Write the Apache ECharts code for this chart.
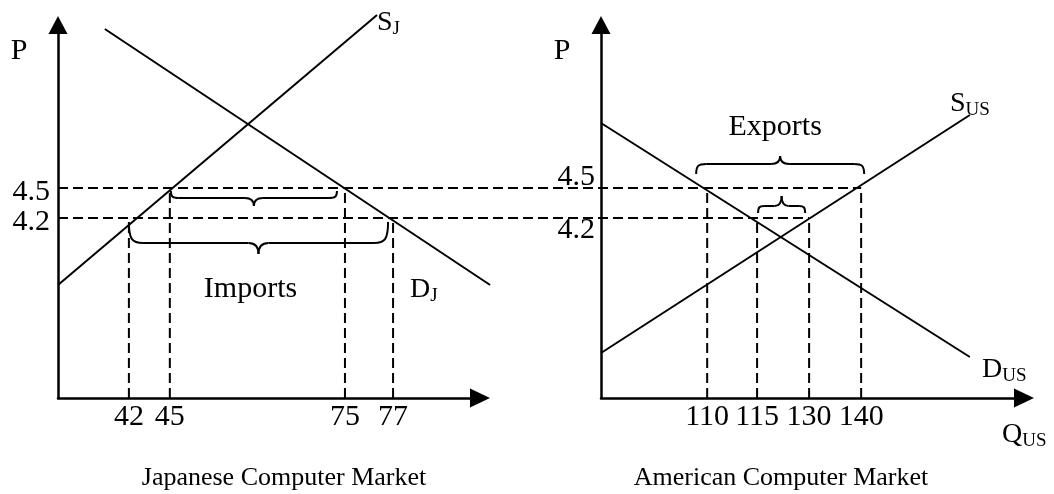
<!DOCTYPE html>
<html>
<head>
<meta charset="utf-8">
<title>Japanese and American computer markets</title>
<script src="https://cdn.jsdelivr.net/npm/echarts@6/dist/echarts.min.js"></script>
<style>
  html, body { margin: 0; padding: 0; background: #fff; }
  #chart { width: 1054px; height: 494px; }
</style>
</head>
<body>
<div id="chart"></div>
<script>
  // prices marked on both P axes
  const prices = [4.5, 4.2];
  // quantities at each price (same order as prices)
  const jpSupplyQ = [45, 42];
  const jpDemandQ = [75, 77];
  const usDemandQ = [110, 115];
  const usSupplyQ = [140, 130];

  // the Q axes are not to scale: tick labels and where they sit on a 0-100 axis
  const jpTicks = [42, 45, 75, 77];
  const jpTickAt = [16.8, 26.5, 68.0, 79.4];
  const usTicks = [110, 115, 130, 140];
  const usTickAt = [25.1, 36.9, 49.2, 61.5];

  // curve end points [Q axis units, P]
  const jpSupply = [[0, 3.53], [75.6, 6.23]];
  const jpDemand = [[11.1, 6.09], [102.4, 3.53]];
  const usDemand = [[0, 5.15], [87.2, 2.81]];
  const usSupply = [[0, 2.85], [87.2, 5.23]];

  // braces [from Q, to Q, price]
  const jpBraces = [[45, 75, 4.5], [42, 77, 4.2]];
  const jpBraceText = ['', 'Imports'];
  const usBraces = [[110, 140, 4.5], [115, 130, 4.2]];
  const usBraceText = ['Exports', ''];

  const FONT = 'Liberation Serif';
  const yMin = 2.4, yMax = 6.13;

  // brace look, in pixels (dir 1 = tip points down)
  const jpBraceStyle = [
    {dir: 1, gap: 3, hook: 7, tip: 8, r1: 8, r2: 9, inset: [1, 8]},
    {dir: 1, gap: 4, hook: 21, tip: 11, r1: 14, r2: 10, inset: [0, 5], textGap: 35, textDx: -8}
  ];
  const usBraceStyle = [
    {dir: -1, gap: 14, hook: 10, tip: 8, r1: 10, r2: 9, inset: [-11, -3], textGap: 29, textDx: -5},
    {dir: -1, gap: 5, hook: 7, tip: 10, r1: 6, r2: 7, inset: [1, 4]}
  ];

  const jpX = q => jpTickAt[jpTicks.indexOf(q)];
  const usX = q => usTickAt[usTicks.indexOf(q)];

  const SOLID = {stroke: '#000', lineWidth: 2, fill: null};
  const DASHED = {stroke: '#000', lineWidth: 2, fill: null, lineDash: [10, 5]};

  // straight segments [x1, y1, x2, y2] in axis units, drawn through the grid's scales
  function segSeries(axis, segs, style) {
    return {
      type: 'custom', xAxisIndex: axis, yAxisIndex: axis, silent: true, clip: false, z: 3,
      data: segs,
      renderItem: function (params, api) {
        const a = api.coord([api.value(0), api.value(1)]);
        const b = api.coord([api.value(2), api.value(3)]);
        return {type: 'line', shape: {x1: a[0], y1: a[1], x2: b[0], y2: b[1]}, style: style};
      }
    };
  }

  function braceSeries(axis, list, toX, styles, texts) {
    return {
      type: 'custom', xAxisIndex: axis, yAxisIndex: axis, silent: true, clip: false, z: 4,
      data: list.map(b => [toX(b[0]), toX(b[1]), b[2]]),
      renderItem: function (params, api) {
        const st = styles[params.dataIndex];
        const a = api.coord([api.value(0), api.value(2)]);
        const b = api.coord([api.value(1), api.value(2)]);
        const d = st.dir;
        const x1 = a[0] + st.inset[0], x2 = b[0] - st.inset[1];
        const y0 = a[1] + d * st.gap, yb = y0 + d * st.hook, yt = yb + d * st.tip;
        const mid = (x1 + x2) / 2;
        const kids = [];
        [[x1, 1], [x2, -1]].forEach(function (e) {
          const xe = e[0], s = e[1];
          kids.push({type: 'bezierCurve', shape: {
            x1: xe, y1: y0, cpx1: xe, cpy1: y0 + d * st.hook * 0.85,
            cpx2: xe + s * st.r1 * 0.25, cpy2: yb, x2: xe + s * st.r1, y2: yb}, style: SOLID});
          kids.push({type: 'line', shape: {x1: xe + s * st.r1, y1: yb, x2: mid - s * st.r2, y2: yb}, style: SOLID});
          kids.push({type: 'bezierCurve', shape: {
            x1: mid - s * st.r2, y1: yb, cpx1: mid - s * st.r2 * 0.35, cpy1: yb,
            cpx2: mid, cpy2: yb + d * st.tip * 0.3, x2: mid, y2: yt}, style: SOLID});
        });
        const t = texts[params.dataIndex];
        if (t) {
          kids.push({type: 'text', x: mid + st.textDx, y: yt + d * st.textGap, style: {
            text: t, fontFamily: FONT, fontSize: 30, fill: '#000',
            align: 'center', verticalAlign: 'middle', textAlign: 'center', textVerticalAlign: 'middle'}});
        }
        return {type: 'group', children: kids};
      }
    };
  }

  function nearest(list, v) {
    let k = 0;
    list.forEach((p, i) => { if (Math.abs(p - v) < Math.abs(list[k] - v)) k = i; });
    return k;
  }

  function xAxisFor(grid, ticks, pos) {
    return {
      type: 'value', gridIndex: grid, min: 0, max: 100,
      splitLine: {show: false}, axisTick: {show: false},
      axisLine: {show: true, onZero: false, symbol: ['none', 'triangle'], symbolSize: [19, 20],
        lineStyle: {color: '#000', width: 2.5}},
      axisLabel: {customValues: pos, formatter: v => String(ticks[nearest(pos, v)]),
        color: '#000', fontFamily: FONT, fontSize: 30, margin: 4}
    };
  }

  function yAxisFor(grid, label) {
    return {
      type: 'value', gridIndex: grid, min: yMin, max: yMax,
      splitLine: {show: false}, axisTick: {show: false},
      axisLine: {show: true, onZero: false, symbol: ['none', 'triangle'], symbolSize: [19, 18],
        lineStyle: {color: '#000', width: 2.5}},
      axisLabel: label
    };
  }

  function sub(x, y, main, small) {
    return {
      type: 'text', x: x, y: y, silent: true,
      style: {
        text: '{m|' + main + '}{s|' + small + '}', fill: '#000',
        align: 'left', verticalAlign: 'middle', textAlign: 'left', textVerticalAlign: 'middle',
        rich: {
          m: {fontFamily: FONT, fontSize: 28, fill: '#000'},
          s: {fontFamily: FONT, fontSize: 19, fill: '#000', padding: [12, 0, 0, 0]}
        }
      }
    };
  }

  function plain(x, y, text, size) {
    return {
      type: 'text', x: x, y: y, silent: true,
      style: {text: text, fontFamily: FONT, fontSize: size, fill: '#000',
        align: 'center', verticalAlign: 'middle', textAlign: 'center', textVerticalAlign: 'middle'}
    };
  }

  const flat = pts => [pts[0][0], pts[0][1], pts[1][0], pts[1][1]];

  // dashed drops from each price down to the Q axis
  const jpDrops = [], usDrops = [];
  prices.forEach(function (p, i) {
    [jpSupplyQ[i], jpDemandQ[i]].forEach(q => jpDrops.push([jpX(q), yMin, jpX(q), p]));
    [usDemandQ[i], usSupplyQ[i]].forEach(q => usDrops.push([usX(q), yMin, usX(q), p]));
  });

  const series = [
    segSeries(0, [flat(jpSupply), flat(jpDemand)], SOLID),
    segSeries(1, [flat(usDemand), flat(usSupply)], SOLID),
    segSeries(0, jpDrops, DASHED),
    segSeries(1, usDrops, DASHED),
    braceSeries(0, jpBraces, jpX, jpBraceStyle, jpBraceText),
    braceSeries(1, usBraces, usX, usBraceStyle, usBraceText)
  ];

  const topPrice = Math.max(...prices);

  const chart = echarts.init(document.getElementById('chart'));
  chart.setOption({
    animation: false,
    backgroundColor: '#fff',
    grid: [
      {left: 58, right: 574, top: 25, bottom: 96},
      {left: 601, right: 30, top: 25, bottom: 96}
    ],
    xAxis: [xAxisFor(0, jpTicks, jpTickAt), xAxisFor(1, usTicks, usTickAt)],
    yAxis: [
      yAxisFor(0, {customValues: prices, color: '#000', fontFamily: FONT, fontSize: 30, margin: 8,
        formatter: v => '{n|' + v.toFixed(1) + '}',
        rich: {n: {fontFamily: FONT, fontSize: 30, color: '#000', padding: [8, 0, 0, 0]}}}),
      yAxisFor(1, {customValues: prices, color: '#000', fontFamily: FONT, fontSize: 30, margin: 6,
        formatter: v => (v === topPrice ? '{up|' : '{dn|') + v.toFixed(1) + '}',
        rich: {
          up: {fontFamily: FONT, fontSize: 30, color: '#000', padding: [0, 0, 22, 0]},
          dn: {fontFamily: FONT, fontSize: 30, color: '#000', padding: [24, 0, 0, 0]}
        }})
    ],
    graphic: [
      plain(19, 51, 'P', 30),
      plain(562, 51, 'P', 30),
      sub(377, 23, 'S', 'J'),
      sub(410, 290, 'D', 'J'),
      sub(950, 104, 'S', 'US'),
      sub(982, 370, 'D', 'US'),
      sub(1002, 435, 'Q', 'US'),
      plain(284, 478, 'Japanese Computer Market', 26),
      plain(781, 478, 'American Computer Market', 26)
    ],
    series: series
  });

  // price guides run from the Japanese P axis across to the last US quantity at that price
  const guides = prices.map(function (p, i) {
    const px = chart.convertToPixel({xAxisIndex: 1}, usX(Math.max(usDemandQ[i], usSupplyQ[i])));
    const end = chart.convertFromPixel({xAxisIndex: 0}, px);
    return [0, p, end, p];
  });
  series.push(segSeries(0, guides, DASHED));
  chart.setOption({series: series});
</script>
</body>
</html>
